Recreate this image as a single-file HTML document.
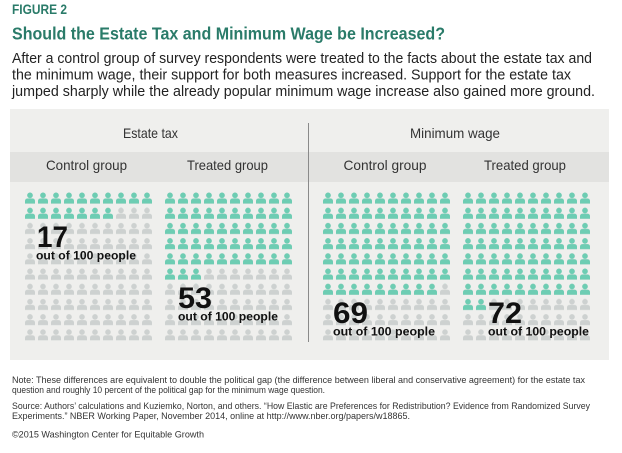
<!DOCTYPE html>
<html>
<head>
<meta charset="utf-8">
<style>
html,body{margin:0;padding:0;background:#fff;}
svg{display:block;}
text{font-family:"Liberation Sans",Arial,sans-serif;}
</style>
</head>
<body>
<svg width="622" height="453" viewBox="0 0 622 453" xmlns="http://www.w3.org/2000/svg">
<defs>
  <g id="ic">
    <circle cx="5" cy="2.8" r="2.8"/>
    <path d="M0,11 L0,8.6 Q0,6 3,6 L7,6 Q10,6 10,8.6 L10,11 Z"/>
  </g>
  <pattern id="pg" patternUnits="userSpaceOnUse" width="13" height="15.2">
    <use href="#ic" fill="#cdd1d0"/>
  </pattern>
  <pattern id="pt" patternUnits="userSpaceOnUse" width="13" height="15.2">
    <use href="#ic" fill="#6dcdb3"/>
  </pattern>
</defs>

<rect x="0" y="0" width="622" height="453" fill="#ffffff"/>

<!-- Header -->
<text x="12" y="14" font-size="14" font-weight="bold" fill="#2a7b69" textLength="55" lengthAdjust="spacingAndGlyphs">FIGURE 2</text>
<text x="12" y="39.5" font-size="17.5" font-weight="bold" fill="#2a7b69" textLength="433" lengthAdjust="spacingAndGlyphs">Should the Estate Tax and Minimum Wage be Increased?</text>
<text x="12" y="63" font-size="15" fill="#222" textLength="580" lengthAdjust="spacingAndGlyphs">After a control group of survey respondents were treated to the facts about the estate tax and</text>
<text x="12" y="79.5" font-size="15" fill="#222" textLength="559" lengthAdjust="spacingAndGlyphs">the minimum wage, their support for both measures increased. Support for the estate tax</text>
<text x="12" y="96" font-size="15" fill="#222" textLength="583" lengthAdjust="spacingAndGlyphs">jumped sharply while the already popular minimum wage increase also gained more ground.</text>

<!-- Panel -->
<rect x="10" y="109" width="599" height="251" fill="#efefed"/>
<rect x="10" y="152" width="599" height="30" fill="#e2e2e0"/>
<line x1="308.5" y1="123" x2="308.5" y2="342" stroke="#8a8a8a" stroke-width="1"/>

<text x="150.5" y="138" font-size="14" fill="#333" text-anchor="middle" textLength="55" lengthAdjust="spacingAndGlyphs">Estate tax</text>
<text x="455" y="138" font-size="14" fill="#333" text-anchor="middle" textLength="90" lengthAdjust="spacingAndGlyphs">Minimum wage</text>

<text x="86.5" y="170" font-size="14" fill="#333" text-anchor="middle" textLength="81" lengthAdjust="spacingAndGlyphs">Control group</text>
<text x="227.5" y="170" font-size="14" fill="#333" text-anchor="middle" textLength="81" lengthAdjust="spacingAndGlyphs">Treated group</text>
<text x="385" y="170" font-size="14" fill="#333" text-anchor="middle" textLength="83" lengthAdjust="spacingAndGlyphs">Control group</text>
<text x="525" y="170" font-size="14" fill="#333" text-anchor="middle" textLength="82" lengthAdjust="spacingAndGlyphs">Treated group</text>

<!-- Estate tax control: 17 -->
<g transform="translate(25,192.5)">
  <rect x="0" y="0" width="130" height="152" fill="url(#pg)"/>
  <rect x="0" y="0" width="130" height="15.2" fill="url(#pt)"/>
  <rect x="0" y="15.2" width="91" height="15.2" fill="url(#pt)"/>
</g>
<!-- Estate tax treated: 53 -->
<g transform="translate(165,192.5)">
  <rect x="0" y="0" width="130" height="152" fill="url(#pg)"/>
  <rect x="0" y="0" width="130" height="76" fill="url(#pt)"/>
  <rect x="0" y="76" width="39" height="15.2" fill="url(#pt)"/>
</g>
<!-- Min wage control: 69 -->
<g transform="translate(323,192.5)">
  <rect x="0" y="0" width="130" height="152" fill="url(#pg)"/>
  <rect x="0" y="0" width="130" height="91.2" fill="url(#pt)"/>
  <rect x="0" y="91.2" width="117" height="15.2" fill="url(#pt)"/>
</g>
<!-- Min wage treated: 72 -->
<g transform="translate(463,192.5)">
  <rect x="0" y="0" width="130" height="152" fill="url(#pg)"/>
  <rect x="0" y="0" width="130" height="106.4" fill="url(#pt)"/>
  <rect x="0" y="106.4" width="26" height="15.2" fill="url(#pt)"/>
</g>

<!-- Numbers -->
<g fill="#111" font-weight="bold">
  <text x="37" y="247" font-size="30" textLength="31" lengthAdjust="spacingAndGlyphs">17</text>
  <text x="36" y="259.5" font-size="12" textLength="100" lengthAdjust="spacingAndGlyphs">out of 100 people</text>

  <text x="178" y="308" font-size="30" textLength="34" lengthAdjust="spacingAndGlyphs">53</text>
  <text x="178" y="320.5" font-size="12" textLength="100" lengthAdjust="spacingAndGlyphs">out of 100 people</text>

  <text x="333" y="323" font-size="30" textLength="35" lengthAdjust="spacingAndGlyphs">69</text>
  <text x="333" y="335.5" font-size="12" textLength="102" lengthAdjust="spacingAndGlyphs">out of 100 people</text>

  <text x="488" y="323" font-size="30" textLength="34" lengthAdjust="spacingAndGlyphs">72</text>
  <text x="488" y="335.5" font-size="12" textLength="101" lengthAdjust="spacingAndGlyphs">out of 100 people</text>
</g>

<!-- Footnotes -->
<g fill="#333" font-size="9.5">
  <text x="12" y="383" textLength="573" lengthAdjust="spacingAndGlyphs">Note: These differences are equivalent to double the political gap (the difference between liberal and conservative agreement) for the estate tax</text>
  <text x="12" y="393" textLength="313" lengthAdjust="spacingAndGlyphs">question and roughly 10 percent of the political gap for the minimum wage question.</text>
  <text x="12" y="409" textLength="578" lengthAdjust="spacingAndGlyphs">Source: Authors’ calculations and Kuziemko, Norton, and others. “How Elastic are Preferences for Redistribution? Evidence from Randomized Survey</text>
  <text x="12" y="419" textLength="398" lengthAdjust="spacingAndGlyphs">Experiments.” NBER Working Paper, November 2014, online at http://www.nber.org/papers/w18865.</text>
  <text x="12" y="437.5" textLength="192" lengthAdjust="spacingAndGlyphs">©2015 Washington Center for Equitable Growth</text>
</g>
</svg>
</body>
</html>
